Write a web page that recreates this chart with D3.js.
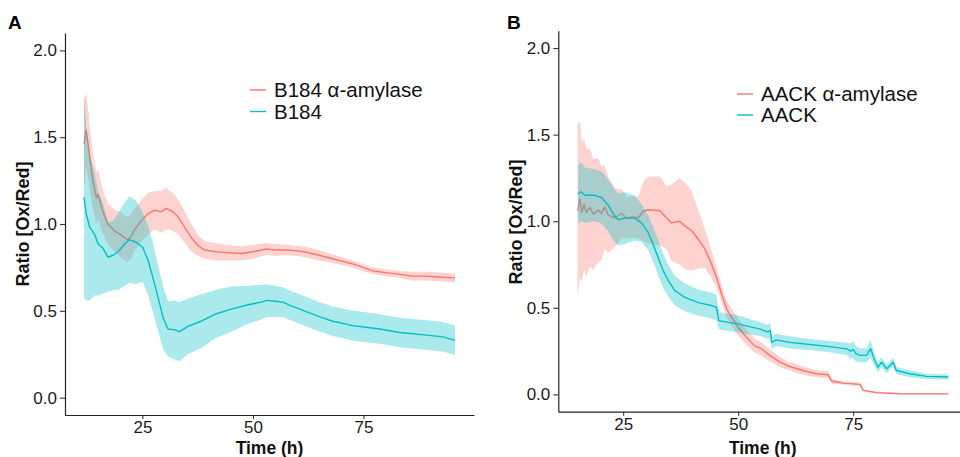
<!DOCTYPE html>
<html><head><meta charset="utf-8">
<script src="https://cdn.jsdelivr.net/npm/d3@7"></script>
<style>
body{margin:0;background:#fff}
text{font-family:"Liberation Sans",Arial,sans-serif}
</style>
</head><body>
<svg id="chart" width="960" height="457"></svg>
<script>
// ---------- tick labels / legends ----------
const yTicks = [0, 0.5, 1.0, 1.5, 2.0];
const xTicks = [25, 50, 75];
const seriesNamesA = ["B184 α-amylase", "B184"];
const seriesNamesB = ["AACK α-amylase", "AACK"];
const seriesColors = ["#F8766D", "#00BFC4"];

// ---------- Panel A: B184 α-amylase ----------
const timeA_amy = [11.8,12.3,12.8,13.1,13.8,14.2,14.6,15.0,15.7,16.4,
                   17.2,18.0,18.7,20.0,21.0,21.7,22.5,23.3,24.8,26.3,
                   27.8,29.3,30.4,31.2,31.9,33.1,34.6,36.1,37.6,39.1,
                   41.4,44.0,47.4,50.0,53.0,55.0,57.6,60.0,62.1,65.0,
                   68.0,72.6,77.2,80.0,83.2,86.0,89.2,92.0,95.7];
const meanA_amy = [1.46,1.54,1.45,1.38,1.25,1.20,1.15,1.17,1.10,1.05,
                   1.00,0.98,0.96,0.94,0.92,0.91,0.93,0.97,1.02,1.06,
                   1.08,1.07,1.09,1.08,1.07,1.04,0.98,0.92,0.875,0.85,
                   0.84,0.835,0.83,0.84,0.856,0.85,0.85,0.845,0.837,0.82,
                   0.80,0.77,0.73,0.72,0.71,0.70,0.70,0.695,0.69];
const errA_amy  = [0.26,0.21,0.20,0.18,0.16,0.15,0.15,0.14,0.13,0.12,
                   0.12,0.12,0.12,0.13,0.13,0.13,0.13,0.12,0.12,0.12,
                   0.11,0.12,0.12,0.11,0.11,0.10,0.09,0.08,0.06,0.05,
                   0.05,0.045,0.04,0.04,0.035,0.035,0.03,0.03,0.03,0.03,
                   0.025,0.02,0.02,0.02,0.02,0.025,0.025,0.025,0.025];

// ---------- Panel A: B184 ----------
const timeA_ctl = [11.8,12.3,13.1,14.2,15.0,16.1,17.2,18.4,19.5,21.0,
                   22.1,23.6,25.1,26.3,27.4,28.5,29.7,30.8,32.3,33.4,
                   35.3,38.3,41.4,45.1,48.9,51.9,53.1,55.0,56.8,58.5,
                   60.6,65.1,68.1,72.6,78.7,83.2,89.3,93.0,95.7];
const meanA_ctl = [1.155,1.06,0.98,0.94,0.885,0.86,0.81,0.82,0.84,0.885,
                   0.91,0.895,0.865,0.79,0.69,0.58,0.46,0.395,0.39,0.38,
                   0.41,0.44,0.48,0.51,0.535,0.55,0.56,0.555,0.55,0.53,
                   0.51,0.465,0.44,0.415,0.395,0.375,0.36,0.35,0.33];
const errA_ctl  = [0.58,0.50,0.42,0.35,0.30,0.26,0.20,0.20,0.22,0.24,
                   0.25,0.24,0.20,0.20,0.20,0.19,0.18,0.16,0.17,0.17,
                   0.16,0.155,0.14,0.13,0.11,0.10,0.095,0.09,0.085,0.085,
                   0.085,0.085,0.085,0.087,0.085,0.085,0.085,0.085,0.085];

// ---------- Panel B: AACK α-amylase ----------
const timeB_amy = [15.1,15.6,16.0,16.5,17.0,17.8,18.5,19.6,20.3,21.0,
                   21.7,23.2,24.7,25.7,26.8,28.3,29.3,30.4,33.0,34.4,
                   35.5,37.3,38.4,39.9,41.3,42.8,44.2,45.3,46.4,47.5,
                   48.6,50.0,51.8,53.6,54.7,56.9,59.1,61.2,64.1,67.0,
                   69.6,70.3,72.8,76.5,77.2,80.1,85.2,90.0,95.7];
const meanB_amy = [1.06,1.127,1.05,1.098,1.05,1.079,1.04,1.064,1.045,1.083,
                   1.037,1.02,1.045,1.018,1.025,1.02,1.056,1.066,1.06,1.02,
                   0.99,1.0,0.973,0.945,0.897,0.84,0.753,0.676,0.58,0.494,
                   0.445,0.388,0.33,0.28,0.269,0.225,0.186,0.161,0.138,0.119,
                   0.113,0.077,0.065,0.058,0.023,0.01,0.004,0.003,0.003];
const errB_amy  = [0.50,0.45,0.40,0.38,0.37,0.34,0.32,0.30,0.27,0.24,
                   0.22,0.17,0.14,0.12,0.12,0.12,0.17,0.19,0.20,0.18,
                   0.22,0.25,0.25,0.23,0.17,0.11,0.08,0.06,0.05,0.05,
                   0.05,0.05,0.045,0.04,0.04,0.035,0.03,0.025,0.025,0.02,
                   0.02,0.015,0.01,0.01,0.005,0.005,0.003,0.003,0.003];

// ---------- Panel B: AACK ----------
const timeB_ctl = [15.2,15.8,16.7,18.8,20.3,21.7,23.2,23.9,25.4,27.5,
                   29.0,30.4,31.5,32.6,33.7,34.8,36.2,38.4,41.3,44.2,
                   45.3,45.8,47.8,50.0,52.9,54.7,56.5,57.0,57.3,58.3,
                   61.2,65.6,69.9,73.6,74.5,75.0,75.6,76.5,77.9,78.8,
                   79.7,80.4,81.2,82.3,83.7,84.4,87.3,91.0,95.7];
const meanB_ctl = [1.156,1.17,1.15,1.15,1.137,1.094,1.03,1.01,1.018,1.018,
                   0.99,0.935,0.868,0.79,0.714,0.657,0.60,0.56,0.53,0.513,
                   0.503,0.426,0.416,0.407,0.388,0.378,0.36,0.37,0.30,0.315,
                   0.30,0.288,0.276,0.263,0.25,0.26,0.235,0.225,0.225,0.263,
                   0.196,0.157,0.186,0.148,0.186,0.138,0.119,0.104,0.10];
const errB_ctl  = [0.17,0.17,0.16,0.15,0.15,0.15,0.15,0.15,0.15,0.13,
                   0.11,0.10,0.10,0.10,0.10,0.09,0.085,0.08,0.075,0.075,
                   0.075,0.05,0.05,0.05,0.045,0.04,0.04,0.045,0.04,0.035,
                   0.035,0.032,0.032,0.035,0.045,0.05,0.045,0.04,0.04,0.05,
                   0.035,0.03,0.03,0.025,0.025,0.02,0.02,0.015,0.015];

function zip(t, m, e){ return t.map((d,i)=>({t:d, m:m[i], e:e[i]})); }

const svg = d3.select("#chart");

function drawPanel(cfg){
  const g = svg.append("g");
  const x = d3.scaleLinear().domain(cfg.xDomain).range(cfg.xRange);
  const y = d3.scaleLinear().domain([-0.1, 2.1]).range(cfg.yRange);

  // series: each ribbon then its line
  cfg.series.forEach((s, i) => {
    const data = zip(s.t, s.m, s.e);
    g.append("path").datum(data)
      .attr("d", d3.area().x(d=>x(d.t)).y0(d=>y(d.m - d.e)).y1(d=>y(d.m + d.e)))
      .attr("fill", seriesColors[i]).attr("fill-opacity", 0.33).attr("stroke","none");
    g.append("path").datum(data)
      .attr("d", d3.line().x(d=>x(d.t)).y(d=>y(d.m)))
      .attr("fill","none").attr("stroke", seriesColors[i]).attr("stroke-width", 1.4)
      .attr("stroke-linejoin","round");
  });

  // axes
  const ax = g.append("g").attr("transform", `translate(${cfg.xRange[0]},0)`)
    .call(d3.axisLeft(y).tickValues(yTicks).tickFormat(d3.format(".1f")).tickSize(5).tickSizeOuter(0).tickPadding(3));
  const bx = g.append("g").attr("transform", `translate(0,${cfg.yRange[0]})`)
    .call(d3.axisBottom(x).tickValues(xTicks).tickSize(4).tickSizeOuter(0).tickPadding(2));
  [ax, bx].forEach(a => {
    a.select(".domain").attr("stroke","#222").attr("stroke-width",1.2);
    a.selectAll(".tick line").attr("stroke","#333").attr("stroke-width",1.1);
    a.selectAll(".tick text").attr("fill","#1a1a1a").style("font-size","17px")
      .style("font-family",'"Liberation Sans",Arial,sans-serif');
  });

  // axis titles
  g.append("text").attr("x", (cfg.xRange[0]+cfg.xRange[1])/2).attr("y", 454)
    .attr("text-anchor","middle").style("font-weight","bold").style("font-size","17.5px")
    .attr("fill","#111").text("Time (h)");
  g.append("text").attr("transform", `translate(${cfg.yTitleX},${cfg.yTitleY}) rotate(-90)`)
    .attr("text-anchor","middle").style("font-weight","bold").style("font-size","18px")
    .attr("fill","#111").text("Ratio [Ox/Red]");

  // panel label
  g.append("text").attr("x", cfg.labelX).attr("y", 29).style("font-weight","bold")
    .style("font-size","19px").attr("fill","#000").text(cfg.label);

  // legend
  cfg.names.forEach((n, i) => {
    const ly = cfg.legY + i*cfg.legStep;
    g.append("line").attr("x1", cfg.legX).attr("x2", cfg.legX+16).attr("y1", ly).attr("y2", ly)
      .attr("stroke", seriesColors[i]).attr("stroke-width", 1.4);
    g.append("text").attr("x", cfg.legX+24).attr("y", ly).attr("dy","0.35em")
      .style("font-size","20.5px").attr("fill","#111").text(n);
  });
}

drawPanel({
  xDomain:[7.5, 100], xRange:[65, 474], yRange:[415, 33],
  series:[{t:timeA_amy,m:meanA_amy,e:errA_amy},{t:timeA_ctl,m:meanA_ctl,e:errA_ctl}],
  names: seriesNamesA, label:"A", labelX:8, yTitleX:29, yTitleY:224,
  legX:250, legY:90, legStep:21.5
});
drawPanel({
  xDomain:[10.9, 99.8], xRange:[558.3, 967.2], yRange:[411.7, 30.7],
  series:[{t:timeB_amy,m:meanB_amy,e:errB_amy},{t:timeB_ctl,m:meanB_ctl,e:errB_ctl}],
  names: seriesNamesB, label:"B", labelX:507, yTitleX:522, yTitleY:222,
  legX:737, legY:94, legStep:21
});
</script>
</body></html>
